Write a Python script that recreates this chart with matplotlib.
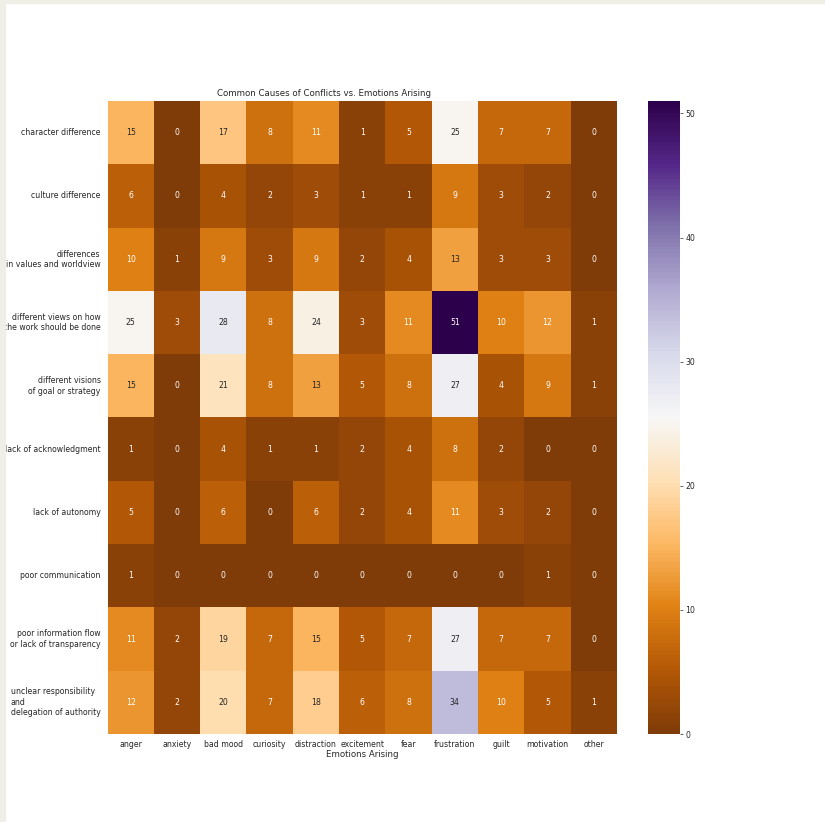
import numpy as np
import matplotlib
matplotlib.use("Agg")
import matplotlib.pyplot as plt
import seaborn as sns
from matplotlib.patches import Rectangle

causes = [
    "character difference",
    "culture difference",
    "differences\nin values and worldview",
    "different views on how\nthe work should be done",
    "different visions\nof goal or strategy",
    "lack of acknowledgment",
    "lack of autonomy",
    "poor communication",
    "poor information flow\nor lack of transparency",
    "unclear responsibility\nand\ndelegation of authority",
]
emotions = ["anger", "anxiety", "bad mood", "curiosity", "distraction", "excitement",
            "fear", "frustration", "guilt", "motivation", "other"]

character_difference = [15, 0, 17, 8, 11, 1, 5, 25, 7, 7, 0]
culture_difference = [6, 0, 4, 2, 3, 1, 1, 9, 3, 2, 0]
values_worldview = [10, 1, 9, 3, 9, 2, 4, 13, 3, 3, 0]
views_on_work = [25, 3, 28, 8, 24, 3, 11, 51, 10, 12, 1]
visions_goal = [15, 0, 21, 8, 13, 5, 8, 27, 4, 9, 1]
lack_acknowledgment = [1, 0, 4, 1, 1, 2, 4, 8, 2, 0, 0]
lack_autonomy = [5, 0, 6, 0, 6, 2, 4, 11, 3, 2, 0]
poor_communication = [1, 0, 0, 0, 0, 0, 0, 0, 0, 1, 0]
poor_info_flow = [11, 2, 19, 7, 15, 5, 7, 27, 7, 7, 0]
unclear_responsibility = [12, 2, 20, 7, 18, 6, 8, 34, 10, 5, 1]

counts = np.array([character_difference, culture_difference, values_worldview,
                   views_on_work, visions_goal, lack_acknowledgment, lack_autonomy,
                   poor_communication, poor_info_flow, unclear_responsibility])

W, H = 825, 822
fig = plt.figure(figsize=(W / 100, H / 100), dpi=100)
fs = 5.6
txt = "0.15"
plt.rcParams["font.family"] = ["DejaVu Sans"]


def box(x0, y0, x1, y1):
    return [x0 / W, 1 - y1 / H, (x1 - x0) / W, (y1 - y0) / H]


ax = fig.add_axes(box(107.5, 101, 617, 734))
cax = fig.add_axes(box(648, 101, 680, 734))

sns.heatmap(counts, ax=ax, cbar_ax=cax, cmap="PuOr", vmin=0, vmax=51,
            annot=True, fmt="d", annot_kws={"fontsize": fs},
            xticklabels=emotions, yticklabels=causes)

fig.text(324 / W, 1 - 93 / H, "Common Causes of Conflicts vs. Emotions Arising",
         fontsize=6.2, color=txt, ha="center", va="center")
ax.set_xlabel("Emotions Arising", fontsize=6.2, labelpad=1, color=txt)
ax.tick_params(axis="both", length=0, labelsize=fs, labelcolor=txt)
ax.tick_params(axis="y", pad=5)
ax.tick_params(axis="x", pad=4)
plt.setp(ax.get_yticklabels(), rotation=0, ha="right")
plt.setp(ax.get_xticklabels(), rotation=0)
ax.get_yticklabels()[-1].set_multialignment("left")

cax.tick_params(labelsize=fs, length=2, width=0.6, pad=2, labelcolor=txt, color="0.3")

# screenshot frame
fig.patches.append(Rectangle((0, 0), 5 / W, 1, transform=fig.transFigure,
                             color="#efefe8", zorder=10))
fig.patches.append(Rectangle((0, 1 - 3 / H), 1, 3 / H, transform=fig.transFigure,
                             color="#efefe8", zorder=10))

fig.savefig("out.png", dpi=100)
